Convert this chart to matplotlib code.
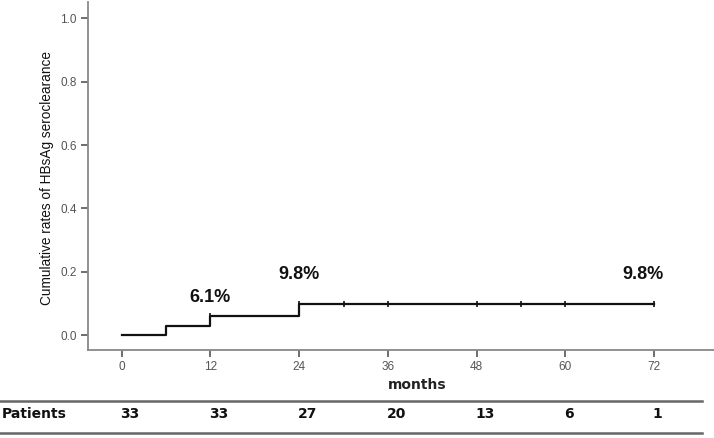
import numpy as np
import matplotlib.pyplot as plt
from matplotlib.lines import Line2D
from matplotlib.transforms import blended_transform_factory

# Kaplan-Meier style cumulative curve
step_months = [0, 6, 12, 24, 72]
step_rates = [0.0, 0.03, 0.061, 0.098, 0.098]

# censored marks
censor_months = [12, 24, 30, 36, 48, 54, 60, 72]
censor_rates = [0.061, 0.098, 0.098, 0.098, 0.098, 0.098, 0.098, 0.098]

# labels on the curve
label_text = ["6.1%", "9.8%", "9.8%"]
label_month = [12, 24, 70.5]
label_rate = [0.12, 0.19, 0.19]

# patients at risk
risk_months = [0, 12, 24, 36, 48, 60, 72]
risk_counts = [33, 33, 27, 20, 13, 6, 1]

sans = ['Liberation Sans', 'DejaVu Sans']

fig = plt.figure(figsize=(7.14, 4.38), dpi=100)
ax = fig.add_axes([88 / 714, 1 - 350 / 438, 1 - 88 / 714, 348 / 438])

ax.step(step_months, step_rates, where='post', color='#111111', lw=1.6)
ax.plot(censor_months, censor_rates, ls='none', marker='|', ms=5, mew=1.2, color='#111111')

for txt, m, r in zip(label_text, label_month, label_rate):
    ax.text(m, r, txt, ha='center', va='center', fontsize=13, fontweight='bold',
            family=sans, color='#111111')

ax.set_xlim(-4.56, 80.1)
ax.set_ylim(-0.047, 1.052)
ax.set_xticks(risk_months)
ax.set_yticks([0.0, 0.2, 0.4, 0.6, 0.8, 1.0])
ax.set_yticklabels(['0.0', '0.2', '0.4', '0.6', '0.8', '1.0'])

for side in ['top', 'right']:
    ax.spines[side].set_visible(False)
for side in ['left', 'bottom']:
    ax.spines[side].set_color('#888888')
    ax.spines[side].set_linewidth(1.3)

ax.tick_params(axis='both', length=5, width=1.2, color='#555555', labelcolor='#555555',
               labelsize=8.5, pad=3)
for lab in ax.get_xticklabels() + ax.get_yticklabels():
    lab.set_family(sans)

ax.set_ylabel('Cumulative rates of HBsAg seroclearance', fontsize=9.8, family=sans,
              color='#111111')
ax.yaxis.set_label_coords(-0.054, 0.494)

# x label and at-risk table below the axes
trans = blended_transform_factory(ax.transData, fig.transFigure)
ax.text(40, 1 - 385 / 438, 'months', transform=trans, ha='center', va='center',
        fontsize=10, fontweight='bold', color='#222222', family='DejaVu Sans')

fig.add_artist(Line2D([0, 702 / 714], [1 - 401 / 438] * 2, color='#666666', lw=1.8))
fig.add_artist(Line2D([0, 702 / 714], [1 - 433 / 438] * 2, color='#666666', lw=1.8))

fig.text(2 / 714, 1 - 414 / 438, 'Patients', ha='left', va='center', fontsize=10,
         fontweight='bold', color='#111111', family='DejaVu Sans')
for m, n in zip(risk_months, risk_counts):
    ax.text(m - 0.2, 1 - 414 / 438, str(n), transform=trans, ha='left', va='center',
            fontsize=10, fontweight='bold', color='#111111', family='DejaVu Sans')

fig.savefig('out.png', dpi=100)
